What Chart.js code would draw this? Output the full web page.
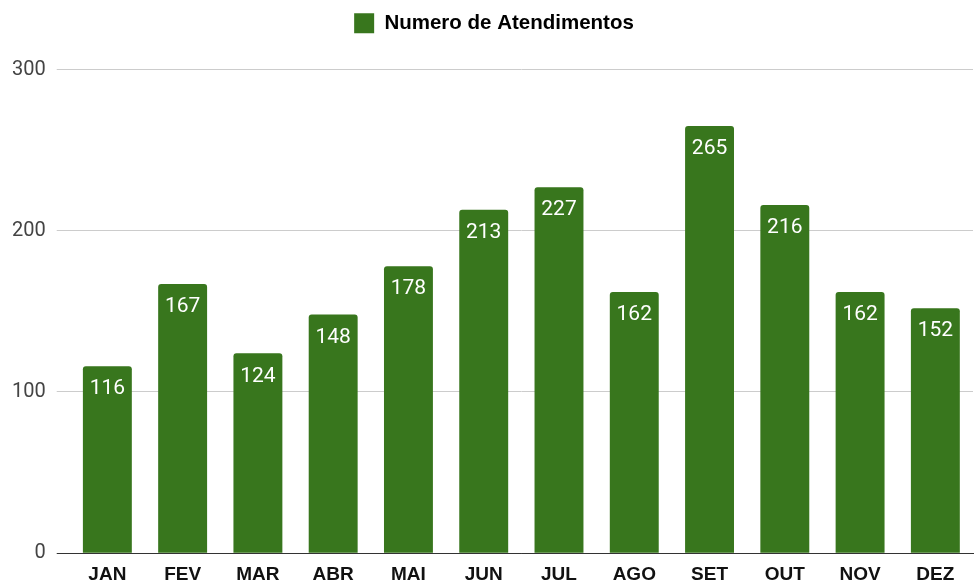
<!DOCTYPE html>
<html>
<head>
<meta charset="utf-8">
<script src="https://cdn.jsdelivr.net/npm/chart.js@4"></script>
<style>
  html, body { margin: 0; padding: 0; background: #fff; }
  #wrap { width: 976px; height: 586px; }
</style>
</head>
<body>
<div id="wrap"><canvas id="grafico-barra"></canvas></div>
<script>
const meses = ['JAN', 'FEV', 'MAR', 'ABR', 'MAI', 'JUN', 'JUL', 'AGO', 'SET', 'OUT', 'NOV', 'DEZ'];
const atendimentos = [116, 167, 124, 148, 178, 213, 227, 162, 265, 216, 162, 152];
const ticksY = [0, 100, 200, 300];
const corBarra = '#38761d';

// rótulos brancos dentro do topo de cada barra
const rotulosBarras = {
  id: 'rotulosBarras',
  afterDatasetsDraw(chart) {
    const ctx = chart.ctx;
    const meta = chart.getDatasetMeta(0);
    ctx.save();
    ctx.fillStyle = '#ffffff';
    ctx.font = '21px Roboto, "Liberation Sans", sans-serif';
    ctx.textAlign = 'center';
    ctx.textBaseline = 'middle';
    meta.data.forEach((bar, i) => {
      ctx.fillText(String(atendimentos[i]), bar.x, bar.y + 23);
    });
    ctx.restore();
  }
};

// espaço extra abaixo da legenda e legenda um pouco à direita
const espacoLegenda = {
  id: 'espacoLegenda',
  beforeInit(chart) {
    const fitOriginal = chart.legend.fit;
    chart.legend.fit = function () {
      fitOriginal.bind(chart.legend)();
      this.height += 26;
    };
  },
  afterLayout(chart) {
    chart.legend.left += 14;
  }
};

new Chart(document.getElementById('grafico-barra').getContext('2d'), {
  type: 'bar',
  data: {
    labels: meses,
    datasets: [{
      label: 'Numero de Atendimentos',
      data: atendimentos,
      backgroundColor: corBarra,
      borderRadius: { topLeft: 3, topRight: 3 },
      borderSkipped: 'bottom',
      categoryPercentage: 0.65,
      barPercentage: 1
    }]
  },
  options: {
    responsive: true,
    maintainAspectRatio: false,
    animation: false,
    layout: { padding: { top: 0, right: 3, bottom: -10, left: 1 } },
    plugins: {
      legend: {
        position: 'top',
        labels: {
          color: '#000',
          boxWidth: 20,
          boxHeight: 20,
          padding: 13,
          font: { family: '"Liberation Sans", Arial, sans-serif', size: 20.5, weight: 'bold' }
        }
      },
      tooltip: { enabled: false }
    },
    scales: {
      x: {
        grid: { display: false, drawTicks: false },
        border: { display: true, color: '#333', width: 1 },
        ticks: {
          color: '#111',
          padding: 10,
          font: { family: '"Liberation Sans", Arial, sans-serif', size: 19, weight: 'bold' }
        }
      },
      y: {
        min: 0,
        max: 300,
        afterBuildTicks(scale) {
          scale.ticks = ticksY.map(v => ({ value: v }));
        },
        grid: {
          color: c => (c.tick && c.tick.value === 0 ? '#333' : '#cccccc'),
          lineWidth: 1,
          tickLength: 13
        },
        border: { display: false },
        ticks: {
          color: '#444',
          padding: 11,
          font: { family: 'Roboto, "Liberation Sans", sans-serif', size: 20 }
        }
      }
    }
  },
  plugins: [rotulosBarras, espacoLegenda]
});
</script>
</body>
</html>
